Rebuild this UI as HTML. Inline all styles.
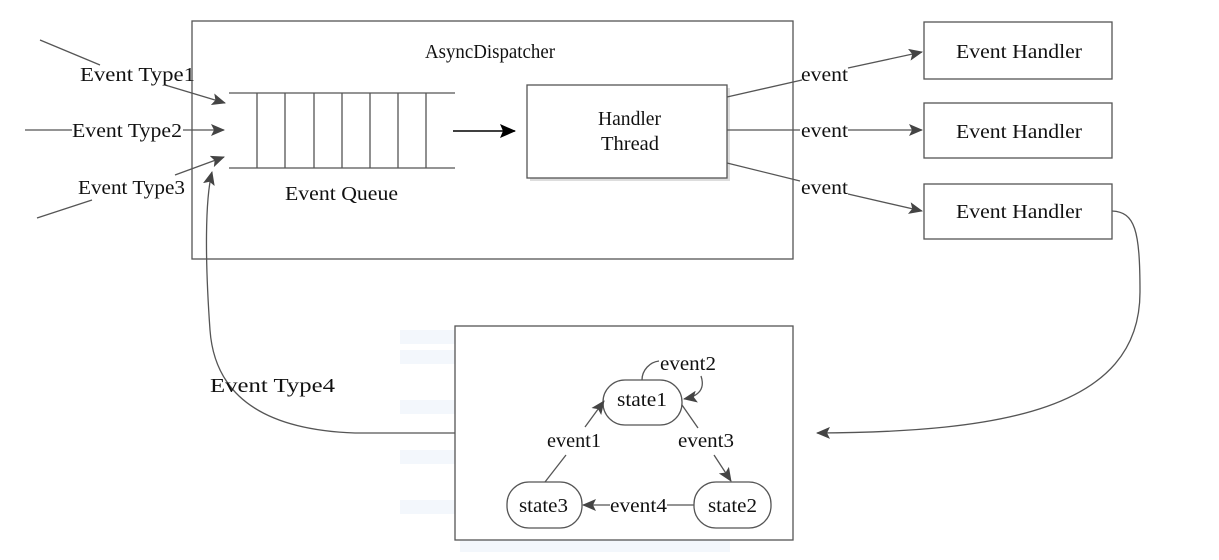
<!DOCTYPE html>
<html><head><style>
html,body{margin:0;padding:0;background:#fff;}
svg text{font-family:"Liberation Serif",serif;font-size:20px;fill:#111;}
</style></head><body>
<svg width="1219" height="555" viewBox="0 0 1219 555" xmlns="http://www.w3.org/2000/svg">
<defs>
<marker id="a" markerWidth="14" markerHeight="12" refX="13" refY="6" orient="auto" markerUnits="userSpaceOnUse">
<path d="M0,0 L14,6 L0,12 L3,6 z" fill="#444"/></marker>
<marker id="b" markerWidth="16" markerHeight="14" refX="15" refY="7" orient="auto" markerUnits="userSpaceOnUse">
<path d="M0,0 L16,7 L0,14 L3,7 z" fill="#000"/></marker>
</defs>
<g fill="#f3f7fc">
<rect x="400" y="330" width="55" height="14"/><rect x="400" y="350" width="55" height="14"/>
<rect x="400" y="400" width="55" height="14"/><rect x="400" y="450" width="55" height="14"/>
<rect x="400" y="500" width="55" height="14"/><rect x="460" y="540" width="270" height="12"/>
</g>
<g stroke="#555" stroke-width="1.3" fill="none">
<rect x="192" y="21" width="601" height="238" fill="#fff"/>
<rect x="455" y="326" width="338" height="214" fill="#fff"/>
<rect x="530" y="88" width="200" height="93" fill="#ddd" stroke="none"/>
<rect x="527" y="85" width="200" height="93" fill="#fff"/>
<rect x="924" y="22" width="188" height="57"/>
<rect x="924" y="103" width="188" height="55"/>
<rect x="924" y="184" width="188" height="55"/>
<line x1="229" y1="93" x2="455" y2="93"/>
<line x1="229" y1="168" x2="455" y2="168"/>
<path d="M257,93V168M285,93V168M314,93V168M342,93V168M370,93V168M398,93V168M426,93V168"/>
<line x1="40" y1="40" x2="100" y2="65"/>
<line x1="165" y1="85" x2="225" y2="103" marker-end="url(#a)"/>
<line x1="25" y1="130" x2="72" y2="130"/>
<line x1="183" y1="130" x2="224" y2="130" marker-end="url(#a)"/>
<line x1="175" y1="175" x2="224" y2="157" marker-end="url(#a)"/>
<line x1="92" y1="200" x2="37" y2="218"/>
<line x1="453" y1="131" x2="515" y2="131" stroke="#000" stroke-width="1.6" marker-end="url(#b)"/>
<line x1="727" y1="97" x2="802" y2="80"/>
<line x1="848" y1="68" x2="922" y2="52" marker-end="url(#a)"/>
<line x1="727" y1="130" x2="800" y2="130"/>
<line x1="848" y1="130" x2="922" y2="130" marker-end="url(#a)"/>
<line x1="727" y1="163" x2="800" y2="181"/>
<line x1="848" y1="194" x2="922" y2="211" marker-end="url(#a)"/>
<path d="M1112,211 C1135,212 1140,230 1140,292 C1140,410 1000,432 817,433" marker-end="url(#a)"/>
<path d="M455,433 L355,433 C270,430 215,400 210,330 C205,260 205,200 212,172" marker-end="url(#a)"/>
<rect x="603" y="380" width="79" height="45" rx="22" fill="#fff"/>
<rect x="694" y="482" width="77" height="46" rx="22" fill="#fff"/>
<rect x="507" y="482" width="75" height="46" rx="22" fill="#fff"/>
<path d="M642,380 C642,370 650,362 659,361"/>
<path d="M701,376 C705,388 700,396 684,399" marker-end="url(#a)"/>
<line x1="545" y1="482" x2="566" y2="455"/>
<line x1="585" y1="427" x2="604" y2="401" marker-end="url(#a)"/>
<line x1="682" y1="405" x2="698" y2="428"/>
<line x1="714" y1="455" x2="731" y2="481" marker-end="url(#a)"/>
<line x1="694" y1="505" x2="667" y2="505"/>
<line x1="610" y1="505" x2="583" y2="505" marker-end="url(#a)"/>
</g>
<text x="425" y="58" textLength="130" lengthAdjust="spacingAndGlyphs">AsyncDispatcher</text>
<text x="80" y="81" textLength="115" lengthAdjust="spacingAndGlyphs">Event Type1</text>
<text x="72" y="137" textLength="110" lengthAdjust="spacingAndGlyphs">Event Type2</text>
<text x="78" y="194" textLength="107" lengthAdjust="spacingAndGlyphs">Event Type3</text>
<text x="285" y="200" textLength="113" lengthAdjust="spacingAndGlyphs">Event Queue</text>
<text x="598" y="125" textLength="63" lengthAdjust="spacingAndGlyphs">Handler</text>
<text x="601" y="150" textLength="58" lengthAdjust="spacingAndGlyphs">Thread</text>
<text x="956" y="58" textLength="126" lengthAdjust="spacingAndGlyphs">Event Handler</text>
<text x="956" y="138" textLength="126" lengthAdjust="spacingAndGlyphs">Event Handler</text>
<text x="956" y="218" textLength="126" lengthAdjust="spacingAndGlyphs">Event Handler</text>
<text x="801" y="81" textLength="47" lengthAdjust="spacingAndGlyphs">event</text>
<text x="801" y="137" textLength="47" lengthAdjust="spacingAndGlyphs">event</text>
<text x="801" y="194" textLength="47" lengthAdjust="spacingAndGlyphs">event</text>
<text x="210" y="392" textLength="125" lengthAdjust="spacingAndGlyphs">Event Type4</text>
<text x="617" y="406" textLength="50" lengthAdjust="spacingAndGlyphs">state1</text>
<text x="708" y="512" textLength="49" lengthAdjust="spacingAndGlyphs">state2</text>
<text x="519" y="512" textLength="49" lengthAdjust="spacingAndGlyphs">state3</text>
<text x="660" y="370" textLength="56" lengthAdjust="spacingAndGlyphs">event2</text>
<text x="547" y="447" textLength="54" lengthAdjust="spacingAndGlyphs">event1</text>
<text x="678" y="447" textLength="56" lengthAdjust="spacingAndGlyphs">event3</text>
<text x="610" y="512" textLength="57" lengthAdjust="spacingAndGlyphs">event4</text>
</svg>
</body></html>
